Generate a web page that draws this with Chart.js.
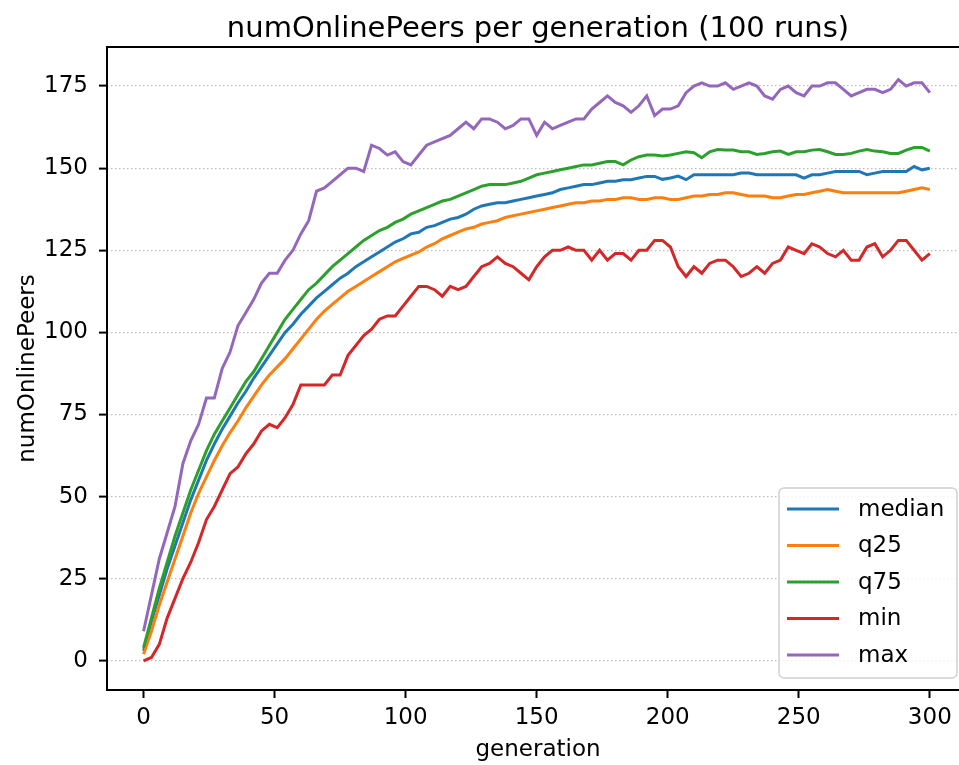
<!DOCTYPE html>
<html>
<head>
<meta charset="utf-8">
<title>numOnlinePeers per generation</title>
<script src="https://cdn.jsdelivr.net/npm/chart.js@4.4.1/dist/chart.umd.min.js"></script>
<style>
  html, body { margin: 0; padding: 0; background: #fff; overflow: hidden; }
  #wrap { width: 959px; height: 765px; overflow: hidden; position: relative; }
  #peersChart { position: absolute; left: 0; top: 0; }
</style>
</head>
<body>
<div id="wrap"><canvas id="peersChart" width="972" height="765"></canvas></div>
<script>
// x positions: every 3rd generation, 0..300
const generations = Array.from({ length: 101 }, (_, i) => i * 3);

// values, one per generation above
const medianPeers = [
    3, 12, 20, 28, 35, 42, 49, 55, 61, 66,
    70.5, 74.5, 78.5, 82, 86, 89.5, 93, 96.5, 100, 102.5,
    105.5, 108, 110.5, 112.5, 114.5, 116.5, 118, 120, 121.5, 123,
    124.5, 126, 127.5, 128.5, 130, 130.5, 132, 132.5, 133.5, 134.5,
    135, 136, 137.5, 138.5, 139, 139.5, 139.5, 140, 140.5, 141,
    141.5, 142, 142.5, 143.5, 144, 144.5, 145, 145, 145.5, 146,
    146, 146.5, 146.5, 147, 147.5, 147.5, 146.6, 147, 147.6, 146.5,
    148, 148, 148, 148, 148, 148, 148.5, 148.5, 148, 148,
    148, 148, 148, 148, 147, 148, 148, 148.5, 149, 149,
    149, 149, 148, 148.5, 149, 149, 149, 149, 150.5, 149.5,
    150
];
const q25Peers = [
    2, 9, 17, 24, 31, 38, 45, 51, 56, 61,
    65.5, 69.5, 73, 77, 80.5, 84, 87, 89.5, 92, 95,
    98, 101, 104, 106.5, 108.5, 110.5, 112.5, 114, 115.5, 117,
    118.5, 120, 121.5, 122.5, 123.5, 124.5, 126, 127, 128.5, 129.5,
    130.5, 131.5, 132, 133, 133.5, 134, 135, 135.5, 136, 136.5,
    137, 137.5, 138, 138.5, 139, 139.5, 139.5, 140, 140, 140.5,
    140.5, 141, 141, 140.5, 140.5, 141, 141, 140.5, 140.5, 141,
    141.5, 141.5, 142, 142, 142.5, 142.5, 142, 141.5, 141.5, 141.5,
    141, 141, 141.5, 142, 142, 142.5, 143, 143.5, 143, 142.5,
    142.5, 142.5, 142.5, 142.5, 142.5, 142.5, 142.5, 143, 143.5, 144,
    143.5
];
const q75Peers = [
    4, 13, 22, 30, 38, 45, 52, 58, 64, 69,
    73, 77, 81, 85, 88, 92, 96, 100, 104, 107,
    110, 113, 115, 117.5, 120, 122, 124, 126, 128, 129.5,
    131, 132, 133.5, 134.5, 136, 137, 138, 139, 140, 140.5,
    141.5, 142.5, 143.5, 144.5, 145, 145, 145, 145.5, 146, 147,
    148, 148.5, 149, 149.5, 150, 150.5, 151, 151, 151.5, 152,
    152, 151, 152.5, 153.5, 154, 154, 153.7, 154, 154.5, 155,
    154.7, 153.2, 155, 155.7, 155.5, 155.5, 155, 155, 154.2, 154.5,
    155, 155.2, 154.2, 155, 155, 155.5, 155.7, 155, 154.2, 154.2,
    154.5, 155.2, 155.7, 155.2, 155, 154.5, 154.5, 155.5, 156.3, 156.3,
    155.2
];
const minPeers = [
    0, 1, 5, 13, 19, 25, 30, 36, 43, 47,
    52, 57, 59, 63, 66, 70, 72, 71, 74, 78,
    84, 84, 84, 84, 87, 87, 93, 96, 99, 101,
    104, 105, 105, 108, 111, 114, 114, 113, 111, 114,
    113, 114, 117, 120, 121, 123, 121, 120, 118, 116,
    120, 123, 125, 125, 126, 125, 125, 122, 125, 122,
    124, 124, 122, 125, 125, 128, 128, 126, 120, 117,
    120, 118, 121, 122, 122, 120, 117, 118, 120, 118,
    121, 122, 126, 125, 124, 127, 126, 124, 123, 125,
    122, 122, 126, 127, 123, 125, 128, 128, 125, 122,
    124
];
const maxPeers = [
    9, 20, 31, 39, 47, 60, 67, 72, 80, 80,
    89, 94, 102, 106, 110, 115, 118, 118, 122, 125,
    130, 134, 143, 144, 146, 148, 150, 150, 149, 157,
    156, 154, 155, 152, 151, 154, 157, 158, 159, 160,
    162, 164, 162, 165, 165, 164, 162, 163, 165, 165,
    160, 164, 162, 163, 164, 165, 165, 168, 170, 172,
    170, 169, 167, 169, 172, 166, 168, 168, 169, 173,
    175, 176, 175, 175, 176, 174, 175, 176, 175, 172,
    171, 174, 175, 173, 172, 175, 175, 176, 176, 174,
    172, 173, 174, 174, 173, 174, 177, 175, 176, 176,
    173
];

const seriesNames = ['median', 'q25', 'q75', 'min', 'max'];
const seriesValues = [medianPeers, q25Peers, q75Peers, minPeers, maxPeers];
const seriesColors = ['#1f77b4', '#ff7f0e', '#2ca02c', '#d62728', '#9467bd'];

const xTicks = [0, 50, 100, 150, 200, 250, 300];
const yTicks = [0, 25, 50, 75, 100, 125, 150, 175];

const FONT = '"DejaVu Sans", sans-serif';

// spines, title and the matplotlib-like legend
const frameTitleLegend = {
    id: 'frameTitleLegend',
    afterDraw(chart) {
        const ctx = chart.ctx;
        const a = chart.chartArea;
        ctx.save();

        // left, top and bottom spines (the right one is cut off in the reference)
        ctx.strokeStyle = '#000';
        ctx.lineWidth = 2;
        ctx.beginPath();
        ctx.moveTo(a.right + 5, a.top);
        ctx.lineTo(a.left, a.top);
        ctx.lineTo(a.left, a.bottom);
        ctx.lineTo(a.right + 5, a.bottom);
        ctx.stroke();

        ctx.fillStyle = '#000';
        ctx.font = '29px ' + FONT;
        ctx.textAlign = 'center';
        ctx.textBaseline = 'alphabetic';
        ctx.fillText('numOnlinePeers per generation (100 runs)', (a.left + a.right) / 2, 37);

        // legend in the lower right corner
        const w = 178, h = 190;
        const x = a.right - 12 - w;
        const y = a.bottom - 12 - h;
        ctx.beginPath();
        ctx.roundRect(x, y, w, h, 5);
        ctx.fillStyle = 'rgba(255,255,255,0.8)';
        ctx.fill();
        ctx.strokeStyle = '#d0d0d0';
        ctx.lineWidth = 1.5;
        ctx.stroke();

        ctx.font = '23px ' + FONT;
        ctx.textAlign = 'left';
        ctx.textBaseline = 'middle';
        chart.data.datasets.forEach((ds, i) => {
            const cy = y + 21 + i * 36.5;
            ctx.strokeStyle = ds.borderColor;
            ctx.lineWidth = 3;
            ctx.beginPath();
            ctx.moveTo(x + 8, cy);
            ctx.lineTo(x + 60, cy);
            ctx.stroke();
            ctx.fillStyle = '#000';
            ctx.fillText(ds.label, x + 79, cy + 1);
        });

        ctx.restore();
    }
};

const datasets = seriesNames.map((name, i) => ({
    label: name,
    data: seriesValues[i].map((v, j) => ({ x: generations[j], y: v })),
    borderColor: seriesColors[i],
    backgroundColor: seriesColors[i],
    borderWidth: 3,
    pointRadius: 0,
    tension: 0,
    fill: false,
    order: seriesNames.length - i
}));

const ctx = document.getElementById('peersChart').getContext('2d');
const chart = new Chart(ctx, {
    type: 'line',
    data: { datasets: datasets },
    plugins: [frameTitleLegend],
    options: {
        responsive: false,
        animation: false,
        layout: { padding: { top: 47, right: 3, left: 0, bottom: 0 } },
        plugins: {
            legend: { display: false },
            title: { display: false },
            tooltip: { enabled: false }
        },
        scales: {
            x: {
                type: 'linear',
                min: -13.95,
                max: 314.95,
                afterBuildTicks: s => { s.ticks = xTicks.map(v => ({ value: v })); },
                afterFit: s => { s.height = 75; },
                grid: {
                    drawOnChartArea: false,
                    tickColor: '#000',
                    tickWidth: 2,
                    tickLength: 8
                },
                border: { display: false },
                ticks: {
                    color: '#000',
                    padding: 6,
                    maxRotation: 0,
                    font: { family: FONT, size: 23 }
                },
                title: {
                    display: true,
                    text: 'generation',
                    color: '#000',
                    padding: { top: 0, bottom: 1 },
                    font: { family: FONT, size: 23 }
                }
            },
            y: {
                type: 'linear',
                min: -8.9,
                max: 186.9,
                afterBuildTicks: s => { s.ticks = yTicks.map(v => ({ value: v })); },
                afterFit: s => { s.width = 107; },
                grid: {
                    color: '#bdbdbd',
                    lineWidth: 1.2,
                    tickColor: '#000',
                    tickWidth: 2,
                    tickLength: 8,
                    tickBorderDash: []
                },
                border: { display: false, dash: [1.5, 2.5] },
                ticks: {
                    color: '#000',
                    padding: 11,
                    font: { family: FONT, size: 23 }
                },
                title: {
                    display: true,
                    text: 'numOnlinePeers',
                    color: '#000',
                    padding: { top: 14, bottom: 0 },
                    font: { family: FONT, size: 23 }
                }
            }
        }
    }
});
</script>
</body>
</html>
